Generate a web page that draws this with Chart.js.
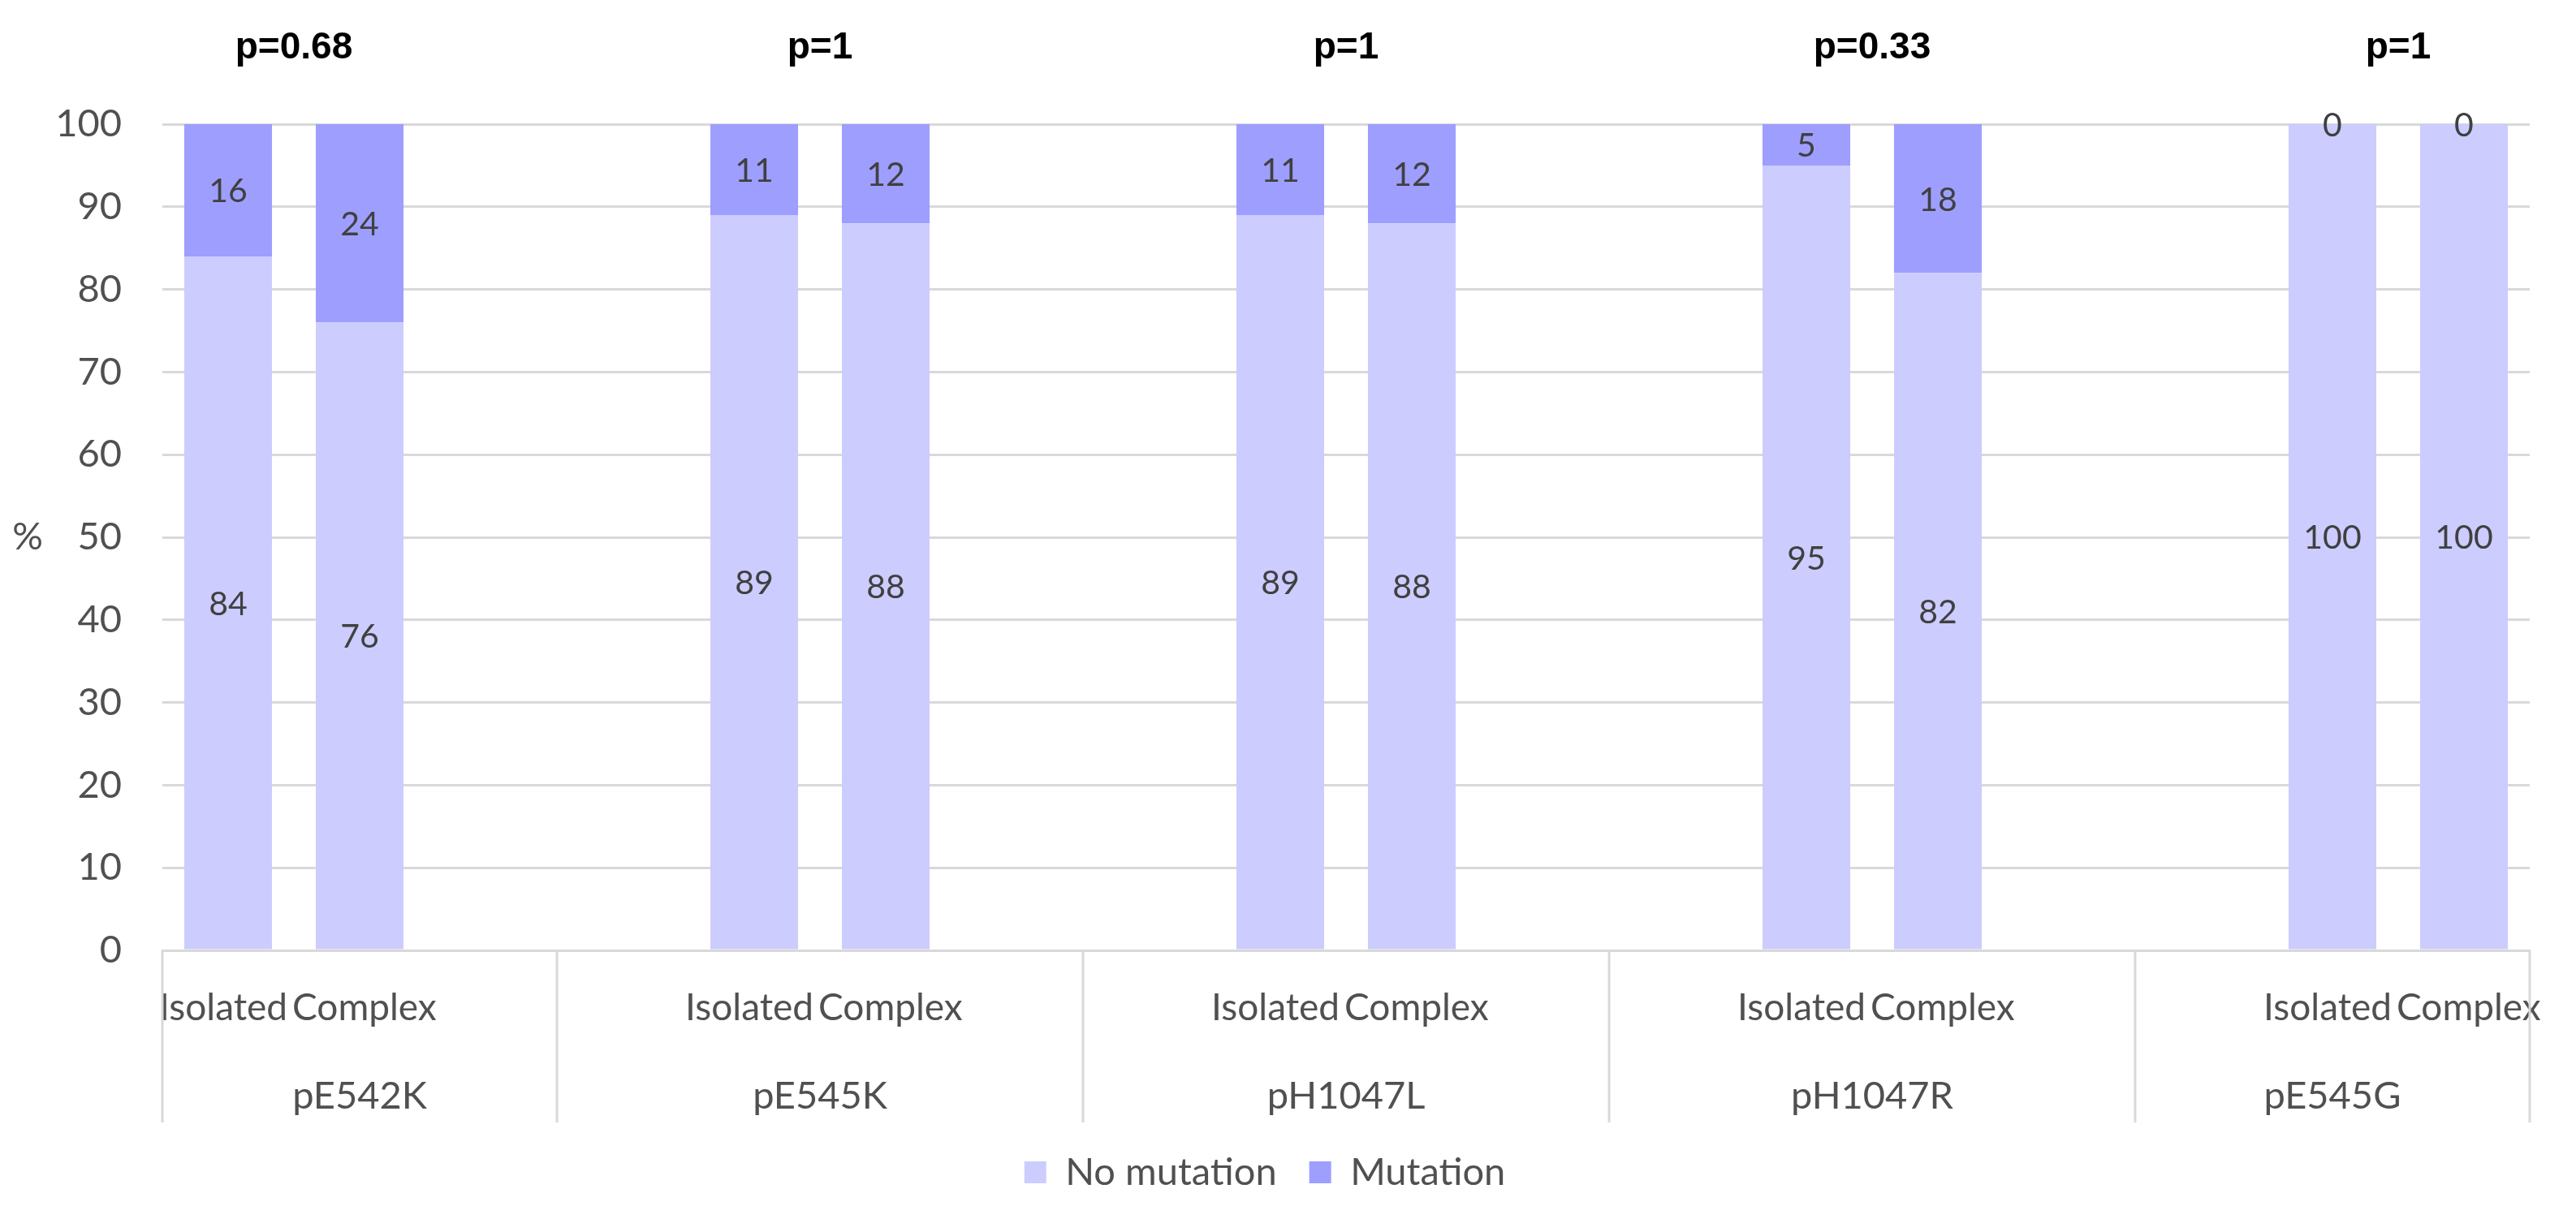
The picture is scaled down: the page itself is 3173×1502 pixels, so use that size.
<!DOCTYPE html>
<html>
<head>
<meta charset="utf-8">
<script src="https://cdn.jsdelivr.net/npm/chart.js@4.4.1/dist/chart.umd.min.js"></script>
<style>
    html, body { margin: 0; padding: 0; background: #fff; }
    #wrap { width: 3173px; height: 1502px; position: relative; }
</style>
</head>
<body>
<div id="wrap"><canvas id="chart-mutations"></canvas></div>
<script>
// values (%)
const groups = ['pE542K', 'pE545K', 'pH1047L', 'pH1047R', 'pE545G'];
const noMutIsolated = [84, 89, 89, 95, 100];
const noMutComplex = [76, 88, 88, 82, 100];
const mutIsolated = [16, 11, 11, 5, 0];
const mutComplex = [24, 12, 12, 18, 0];
const pValues = ['p=0.68', 'p=1', 'p=1', 'p=0.33', 'p=1'];
const yTicks = [0, 10, 20, 30, 40, 50, 60, 70, 80, 90, 100];

const LABEL_FONT = 'Lato, "Open Sans", sans-serif';
const TEXT_GRAY = '#505050';
const GRID_GRAY = '#d9d9d9';

// Excel-style leaf categories: blank spacer slots between the groups
// (the padding space keeps "Isolated" and "Complex" from running together)
const labels = [];
const noMut = [];
const mut = [];
const groupSpans = [];
groups.forEach((g, i) => {
    const start = labels.length;
    if (i > 0) { labels.push(''); noMut.push(null); mut.push(null); }
    const iso = labels.length;
    labels.push('Isolated '); noMut.push(noMutIsolated[i]); mut.push(mutIsolated[i]);
    labels.push(' Complex'); noMut.push(noMutComplex[i]); mut.push(mutComplex[i]);
    if (i < groups.length - 1) { labels.push(''); noMut.push(null); mut.push(null); }
    groupSpans.push({ name: g, start: start, end: labels.length, iso: iso });
});

// value labels, group labels + separators, p values, "%" title
const annotations = {
    id: 'annotations',
    afterDatasetsDraw(chart) {
        const ctx = chart.ctx;
        const x = chart.scales.x;
        const area = chart.chartArea;
        ctx.save();

        // values inside the bars
        ctx.font = '41px ' + LABEL_FONT;
        ctx.fillStyle = '#404040';
        ctx.textAlign = 'center';
        ctx.textBaseline = 'alphabetic';
        chart.data.datasets.forEach((ds, di) => {
            const meta = chart.getDatasetMeta(di);
            meta.data.forEach((el, j) => {
                const v = ds.data[j];
                if (v === null || v === undefined) return;
                const cy = (el.y + el.base) / 2;
                ctx.fillText(String(v), el.x, cy + 15);
            });
        });

        // group separators under the axis
        ctx.strokeStyle = GRID_GRAY;
        ctx.lineWidth = 3;
        const bounds = [0];
        groupSpans.forEach(s => bounds.push(s.end));
        bounds.forEach(b => {
            const px = Math.round(x.getPixelForValue(b - 0.5));
            ctx.beginPath();
            ctx.moveTo(px, area.bottom);
            ctx.lineTo(px, 1383);
            ctx.stroke();
        });

        // group names
        ctx.font = '47px ' + LABEL_FONT;
        ctx.fillStyle = TEXT_GRAY;
        groupSpans.forEach(s => {
            const left = x.getPixelForValue(s.start - 0.5);
            const right = x.getPixelForValue(s.end - 0.5);
            ctx.fillText(s.name, (left + right) / 2, 1366);
        });

        // p values above each pair
        ctx.font = 'bold 46px "Liberation Sans", Arial, sans-serif';
        ctx.fillStyle = '#000';
        groupSpans.forEach((s, i) => {
            const cx = (x.getPixelForValue(s.iso) + x.getPixelForValue(s.iso + 1)) / 2;
            ctx.fillText(pValues[i], cx, 72);
        });

        // axis title, upright as in the figure
        ctx.font = '47px ' + LABEL_FONT;
        ctx.fillStyle = TEXT_GRAY;
        ctx.textBaseline = 'middle';
        ctx.fillText('%', 34, (area.top + area.bottom) / 2);
        ctx.restore();
    }
};

new Chart(document.getElementById('chart-mutations'), {
    type: 'bar',
    data: {
        labels: labels,
        datasets: [
            {
                label: 'No mutation',
                data: noMut,
                backgroundColor: '#CCCCFF',
                barPercentage: 0.667,
                categoryPercentage: 1
            },
            {
                label: 'Mutation',
                data: mut,
                backgroundColor: '#9E9EFF',
                barPercentage: 0.667,
                categoryPercentage: 1
            }
        ]
    },
    options: {
        responsive: true,
        maintainAspectRatio: false,
        animation: false,
        devicePixelRatio: 1,
        layout: {
            padding: { top: 153, right: 57, left: 0, bottom: 24 }
        },
        plugins: {
            legend: {
                position: 'bottom',
                labels: {
                    color: TEXT_GRAY,
                    font: { family: LABEL_FONT, size: 47 },
                    boxWidth: 27,
                    boxHeight: 27,
                    padding: 40
                }
            },
            tooltip: { enabled: false }
        },
        scales: {
            x: {
                stacked: true,
                grid: { display: false },
                border: { display: true, color: GRID_GRAY, width: 3 },
                ticks: {
                    color: TEXT_GRAY,
                    font: { family: LABEL_FONT, size: 46 },
                    autoSkip: false,
                    maxRotation: 0,
                    padding: 36
                },
                afterFit: scale => { scale.height = 210; }
            },
            y: {
                stacked: true,
                min: 0,
                max: 100,
                afterBuildTicks: scale => { scale.ticks = yTicks.map(v => ({ value: v })); },
                grid: { color: GRID_GRAY, lineWidth: 3, drawTicks: false },
                border: { display: false },
                ticks: {
                    color: TEXT_GRAY,
                    font: { family: LABEL_FONT, size: 47 },
                    padding: 50
                },
                afterFit: scale => { scale.width = 200; }
            }
        }
    },
    plugins: [annotations]
});
</script>
</body>
</html>
